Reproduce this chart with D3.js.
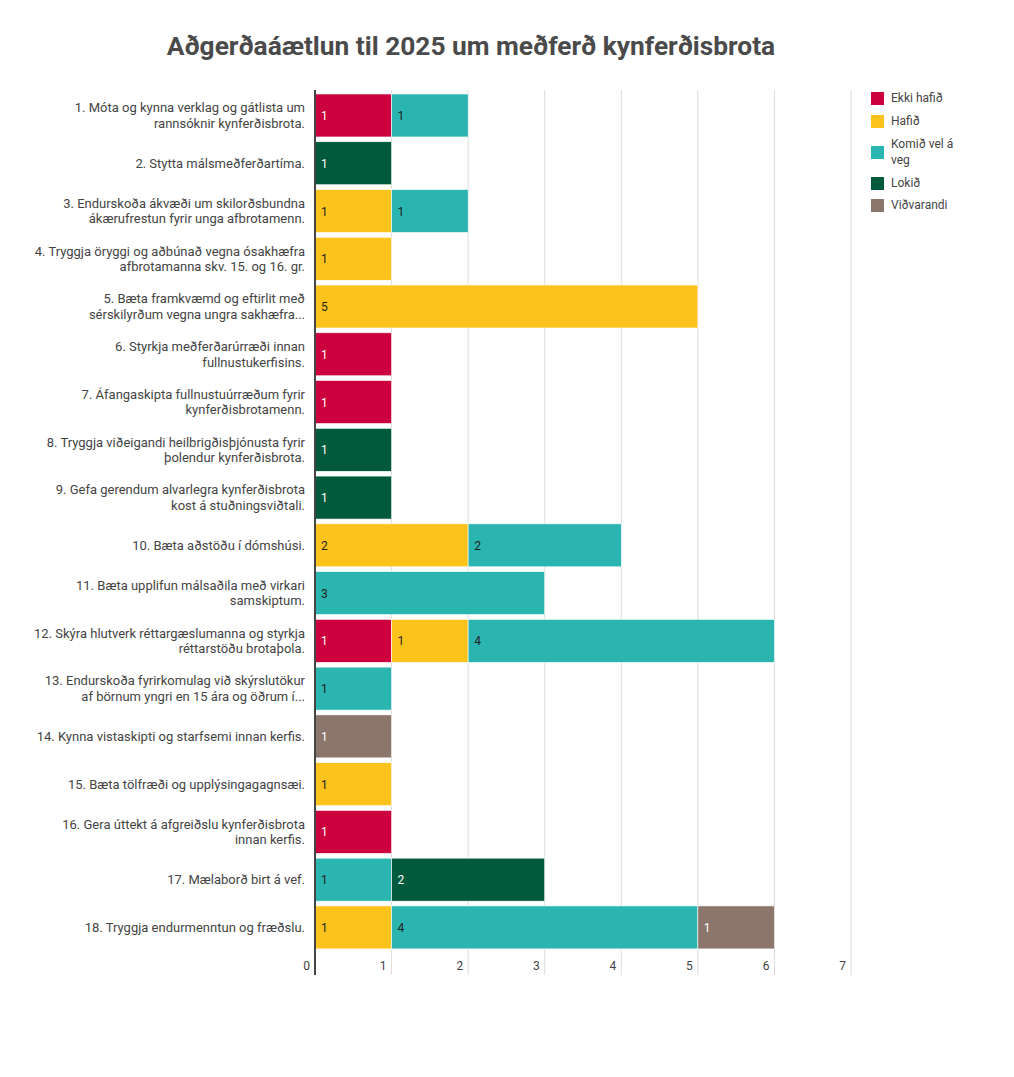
<!DOCTYPE html>
<html><head><meta charset="utf-8">
<script src="https://cdn.jsdelivr.net/npm/d3@7"></script>
<style>
body{margin:0;background:#fff;font-family:"Fira Sans",Roboto,"Open Sans",sans-serif;}
</style></head>
<body><svg id="c" width="1014" height="1077"></svg>
<script>
const categories = [
 "1. Móta og kynna verklag og gátlista um\nrannsóknir kynferðisbrota.",
 "2. Stytta málsmeðferðartíma.",
 "3. Endurskoða ákvæði um skilorðsbundna\nákærufrestun fyrir unga afbrotamenn.",
 "4. Tryggja öryggi og aðbúnað vegna ósakhæfra\nafbrotamanna skv. 15. og 16. gr.",
 "5. Bæta framkvæmd og eftirlit með\nsérskilyrðum vegna ungra sakhæfra...",
 "6. Styrkja meðferðarúrræði innan\nfullnustukerfisins.",
 "7. Áfangaskipta fullnustuúrræðum fyrir\nkynferðisbrotamenn.",
 "8. Tryggja viðeigandi heilbrigðisþjónusta fyrir\nþolendur kynferðisbrota.",
 "9. Gefa gerendum alvarlegra kynferðisbrota\nkost á stuðningsviðtali.",
 "10. Bæta aðstöðu í dómshúsi.",
 "11. Bæta upplifun málsaðila með virkari\nsamskiptum.",
 "12. Skýra hlutverk réttargæslumanna og styrkja\nréttarstöðu brotaþola.",
 "13. Endurskoða fyrirkomulag við skýrslutökur\naf börnum yngri en 15 ára og öðrum í...",
 "14. Kynna vistaskipti og starfsemi innan kerfis.",
 "15. Bæta tölfræði og upplýsingagagnsæi.",
 "16. Gera úttekt á afgreiðslu kynferðisbrota\ninnan kerfis.",
 "17. Mælaborð birt á vef.",
 "18. Tryggja endurmenntun og fræðslu."
];
const seriesNames = ["Ekki hafið","Hafið","Komið vel á veg","Lokið","Viðvarandi"];
const seriesColors = ["#cc003d","#fdc31d","#2bb5b0","#005a3b","#8c756b"];
const labelColors = ["#fff","#222","#222","#fff","#fff"];
const ekkiHafid  = [1,0,0,0,0,1,1,0,0,0,0,1,0,0,0,1,0,0];
const hafid      = [0,0,1,1,5,0,0,0,0,2,0,1,0,0,1,0,0,1];
const komidVel   = [1,0,1,0,0,0,0,0,0,2,3,4,1,0,0,0,1,4];
const lokid      = [0,1,0,0,0,0,0,1,1,0,0,0,0,0,0,0,2,0];
const vidvarandi = [0,0,0,0,0,0,0,0,0,0,0,0,0,1,0,0,0,1];
const xTicks = [0,1,2,3,4,5,6,7];
const title = "Aðgerðaáætlun til 2025 um meðferð kynferðisbrota";

const seriesVals = [ekkiHafid,hafid,komidVel,lokid,vidvarandi];
const rows = categories.map((c,i)=>{const o={cat:c}; seriesNames.forEach((s,j)=>o[s]=seriesVals[j][i]); return o;});
const stack = d3.stack().keys(seriesNames)(rows);

const svg = d3.select("#c");
const font = 'Roboto, "Open Sans", sans-serif';
const x = d3.scaleLinear().domain([0,7]).range([315,851]);
const y = d3.scaleBand().domain(categories).range([91.6,951.3]).paddingInner(0.1).paddingOuter(0.05);

svg.append("text").attr("x",471).attr("y",55).attr("text-anchor","middle")
  .attr("font-family",font).attr("font-weight","bold").attr("font-size",26.3).attr("fill","#4a4a4a").text(title);

// grid
svg.append("g").selectAll("line").data(xTicks.slice(1)).join("line")
  .attr("x1",d=>x(d)).attr("x2",d=>x(d)).attr("y1",90).attr("y2",975)
  .attr("stroke","#dcdcdc").attr("stroke-width",1);
// tick labels
svg.append("g").selectAll("text").data(xTicks).join("text")
  .attr("x",d=>x(d)-5).attr("y",970).attr("text-anchor","end")
  .attr("font-family",font).attr("font-size",12).attr("fill","#444").text(d=>d);

// bars
const g = svg.append("g");
stack.forEach((layer,j)=>{
  layer.forEach((d,i)=>{
    if(d[1]-d[0]<=0) return;
    g.append("rect").attr("x",x(d[0])).attr("y",y(categories[i]))
     .attr("width",x(d[1])-x(d[0])).attr("height",y.bandwidth())
     .attr("fill",seriesColors[j]).attr("stroke","#fff").attr("stroke-width",0.6);
    g.append("text").attr("x",x(d[0])+6).attr("y",y(categories[i])+y.bandwidth()/2+4.5)
     .attr("font-family",font).attr("font-size",12).attr("fill",labelColors[j]).text(d[1]-d[0]);
  });
});

// axis line
svg.append("line").attr("x1",315).attr("x2",315).attr("y1",90).attr("y2",975).attr("stroke","#444").attr("stroke-width",2);

// category labels
const cl = svg.append("g");
categories.forEach(c=>{
  const lines = c.split("\n");
  const cy = y(c)+y.bandwidth()/2;
  const t = cl.append("text").attr("text-anchor","end").attr("font-family",font).attr("font-size",13).attr("fill","#444");
  lines.forEach((l,k)=>{
    t.append("tspan").attr("x",305).attr("y",cy+4.5+(k-(lines.length-1)/2)*15.5).text(l);
  });
});

// legend
const legendY = [98,121,144,183,205];
const legendLines = [["Ekki hafið"],["Hafið"],["Komið vel á","veg"],["Lokið"],["Viðvarandi"]];
const lg = svg.append("g");
seriesNames.forEach((s,j)=>{
  const ly = legendY[j];
  const n = legendLines[j].length;
  lg.append("rect").attr("x",871).attr("y",ly+(n-1)*8-6).attr("width",13).attr("height",13).attr("fill",seriesColors[j]);
  const t = lg.append("text").attr("font-family",font).attr("font-size",12).attr("fill","#444");
  legendLines[j].forEach((l,k)=>t.append("tspan").attr("x",891).attr("y",ly+4+k*16).text(l));
});
</script></body></html>
